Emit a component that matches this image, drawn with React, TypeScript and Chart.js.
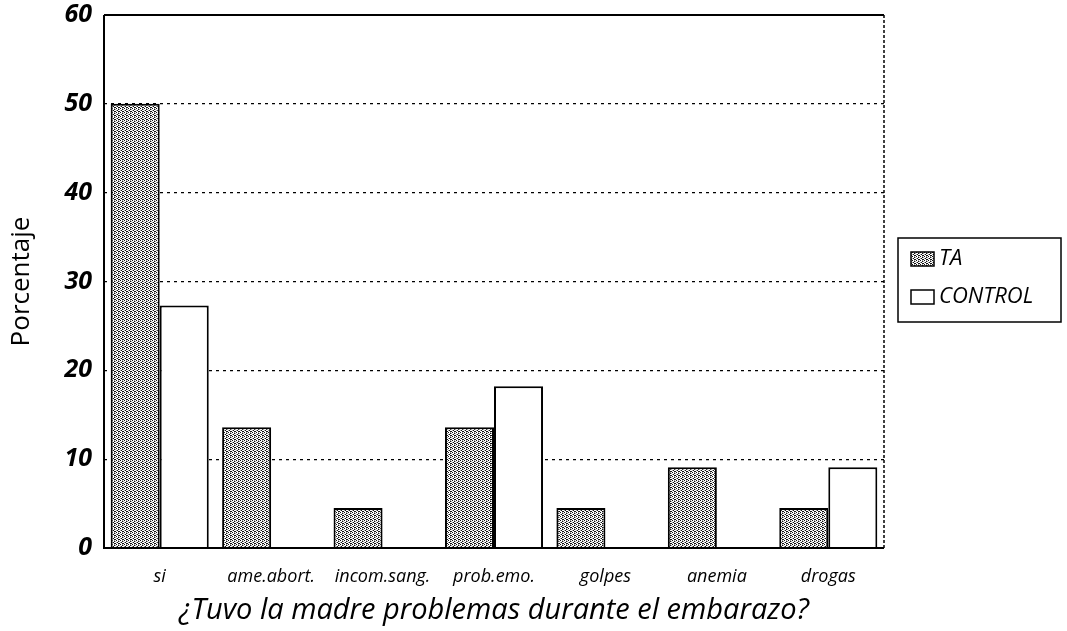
import React, { useEffect, useRef } from "react";
import { Chart, registerables } from "chart.js";

Chart.register(...registerables);

const categories = ["si", "ame.abort.", "incom.sang.", "prob.emo.", "golpes", "anemia", "drogas"];
const taValues = [50, 13.6, 4.5, 13.6, 4.5, 9.1, 4.5];
const controlValues = [27.3, 0, 0, 18.2, 0, 0, 9.1];
const seriesNames = ["TA", "CONTROL"];
const yTitle = "Porcentaje";
const xTitle = "¿Tuvo la madre problemas durante el embarazo?";

const FONT = "'Open Sans', 'DejaVu Sans', sans-serif";

function makePattern(): CanvasPattern | string {
  const c = document.createElement("canvas");
  c.width = 4;
  c.height = 4;
  const ctx = c.getContext("2d");
  if (!ctx) return "#aaa";
  ctx.fillStyle = "#ffffff";
  ctx.fillRect(0, 0, 4, 4);
  ctx.fillStyle = "#111111";
  const pts = [[0, 0], [2, 1], [1, 2], [3, 3], [2, 3]];
  for (const [x, y] of pts) ctx.fillRect(x, y, 1, 1);
  ctx.fillStyle = "#a0a0a0";
  const gpts = [[2, 0], [0, 2], [3, 1]];
  for (const [x, y] of gpts) ctx.fillRect(x, y, 1, 1);
  const p = ctx.createPattern(c, "repeat");
  return p || "#aaa";
}

export default function App() {
  const ref = useRef<HTMLCanvasElement | null>(null);

  useEffect(() => {
    document.body.style.margin = "0";
    const canvas = ref.current;
    if (!canvas) return;
    const pattern = makePattern();

    const boxPlugin = {
      id: "boxAndLegend",
      afterDraw(chart: any) {
        const { ctx, chartArea } = chart;
        const { left, right, top, bottom } = chartArea;
        ctx.save();
        ctx.strokeStyle = "#000";
        ctx.lineWidth = 2;
        ctx.setLineDash([]);
        ctx.beginPath();
        ctx.moveTo(left, top);
        ctx.lineTo(right, top);
        ctx.moveTo(left, top);
        ctx.lineTo(left, bottom);
        ctx.lineTo(right, bottom);
        ctx.stroke();
        ctx.lineWidth = 1.5;
        ctx.setLineDash([3, 2]);
        ctx.beginPath();
        ctx.moveTo(right, top);
        ctx.lineTo(right, bottom);
        ctx.stroke();
        ctx.setLineDash([]);

        // legend
        const lx = right + 14;
        const ly = 238;
        const lw = 163;
        const lh = 84;
        ctx.lineWidth = 1.5;
        ctx.strokeStyle = "#000";
        ctx.fillStyle = "#fff";
        ctx.fillRect(lx, ly, lw, lh);
        ctx.strokeRect(lx, ly, lw, lh);
        const fills = [pattern, "#ffffff"];
        ctx.font = `italic 22px ${FONT}`;
        ctx.textBaseline = "middle";
        ctx.textAlign = "left";
        seriesNames.forEach((name, i) => {
          const sy = ly + 14 + i * 38;
          ctx.fillStyle = fills[i] as any;
          ctx.fillRect(lx + 13, sy, 23, 14);
          ctx.lineWidth = 1.5;
          ctx.strokeRect(lx + 13, sy, 23, 14);
          ctx.fillStyle = "#000";
          ctx.fillText(name, lx + 41, sy + 7);
        });
        ctx.restore();
      },
    };

    const chart = new Chart(canvas, {
      type: "bar",
      data: {
        labels: categories,
        datasets: [
          {
            label: seriesNames[0],
            data: taValues,
            backgroundColor: pattern as any,
            borderColor: "#000",
            borderWidth: 2,
            borderSkipped: "bottom",
            categoryPercentage: 0.88,
            barPercentage: 1.0,
          },
          {
            label: seriesNames[1],
            data: controlValues,
            backgroundColor: "#ffffff",
            borderColor: "#000",
            borderWidth: 2,
            borderSkipped: "bottom",
            categoryPercentage: 0.88,
            barPercentage: 1.0,
          },
        ],
      },
      options: {
        animation: false,
        responsive: false,
        maintainAspectRatio: false,
        layout: { padding: { left: 0, right: 183, top: 15, bottom: 0 } },
        plugins: {
          legend: { display: false },
          tooltip: { enabled: false },
          title: { display: false },
        },
        scales: {
          x: {
            grid: { display: false },
            border: { display: false },
            ticks: {
              color: "#000",
              font: { family: FONT, size: 18, style: "italic" },
              padding: 10,
              maxRotation: 0,
            },
            title: {
              display: true,
              text: xTitle,
              color: "#000",
              font: { family: FONT, size: 29, style: "italic" },
              padding: { top: 0, bottom: 3 },
            },
            afterFit(scale: any) {
              scale.height = 83;
              scale.paddingLeft = 0;
              scale.paddingRight = 0;
            },
          },
          y: {
            min: 0,
            max: 60,
            ticks: {
              stepSize: 10,
              color: "#000",
              font: { family: FONT, size: 25, style: "italic", weight: "bold" },
              padding: 12,
            },
            grid: {
              color: (c: any) =>
                c.tick && (c.tick.value === 0 || c.tick.value === 60) ? "rgba(0,0,0,0)" : "#000",
              lineWidth: 1.3,
              drawTicks: false,
            },
            border: { display: false, dash: [3, 4] },
            title: {
              display: true,
              text: yTitle,
              color: "#000",
              font: { family: FONT, size: 26 },
              padding: { top: 6, bottom: 0 },
            },
            afterFit(scale: any) {
              scale.width = 104;
              scale.paddingTop = 0;
              scale.paddingBottom = 0;
            },
          },
        },
      },
      plugins: [boxPlugin],
    });

    return () => chart.destroy();
  }, []);

  return (
    <div style={{ width: 1067, height: 631, position: "relative", background: "#fff" }}>
      <canvas ref={ref} width={1067} height={631} style={{ display: "block" }} />
    </div>
  );
}
